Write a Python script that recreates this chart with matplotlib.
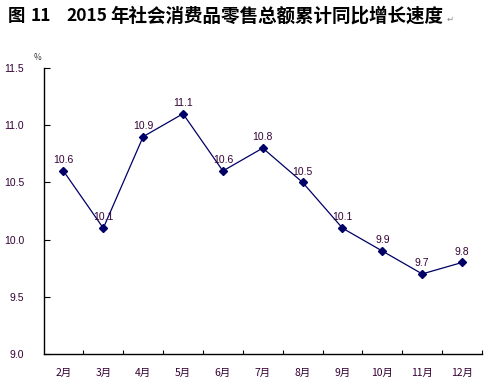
import matplotlib
matplotlib.use("Agg")
import matplotlib.pyplot as plt

months = ["2月", "3月", "4月", "5月", "6月", "7月", "8月", "9月", "10月", "11月", "12月"]
values = [10.6, 10.1, 10.9, 11.1, 10.6, 10.8, 10.5, 10.1, 9.9, 9.7, 9.8]
yticks = [9.0, 9.5, 10.0, 10.5, 11.0, 11.5]
title_parts = ["图", "11", "2015"]
title_x = [8, 31, 66]
title_rest = "年社会消费品零售总额累计同比增长速度"

plt.rcParams['font.family'] = ['Noto Sans CJK SC', 'DejaVu Sans']

fig = plt.figure(figsize=(5.01, 3.84), dpi=100)
ax = fig.add_axes([43.5/501, 1-354/384, (482-43.5)/501, (354-68)/384])

x = list(range(len(months)))
ax.plot(x, values, color="#000066", lw=0.9, marker="D", ms=4.5,
        mfc="#000066", mec="#000066")
for xi, v in zip(x, values):
    ax.text(xi, v + 0.05, f"{v:.1f}", ha="center", va="bottom",
            fontsize=7.5, color="#330033", family=['Liberation Sans', 'DejaVu Sans'])

ax.set_xlim(-0.5, len(months) - 0.5)
ax.set_ylim(9.0, 11.5)
ax.set_yticks(yticks)
ax.set_yticklabels([f"{t:.1f}" for t in yticks], fontsize=7.5, color="#330033",
                   family=['Liberation Sans', 'DejaVu Sans'])
ax.set_xticks(x)
ax.set_xticklabels(months, fontsize=7.5, color="#330033")
ax.set_xticks([i - 0.5 for i in range(1, len(months))] + [len(months) - 0.5], minor=True)
ax.tick_params(axis="x", which="major", length=0, pad=10)
ax.tick_params(axis="x", which="minor", direction="in", length=3, width=0.8)
ax.tick_params(axis="y", direction="in", length=4, width=0.8, pad=14)
for s in ["top", "right"]:
    ax.spines[s].set_visible(False)
for s in ["left", "bottom"]:
    ax.spines[s].set_linewidth(1.0)

fig.text(38/501, 1-62/384, "%", fontsize=6, color="#333333", ha="center", va="bottom")
for part, px in zip(title_parts, title_x):
    fig.text(px/501, 1-16/384, part, fontsize=12.5, fontweight="bold", ha="left",
             va="center", color="black")

# fit the CJK part of the title to span from x=110 to x=445 px
renderer = fig.canvas.get_renderer()
t = fig.text(110/501, 1-16/384, title_rest, fontsize=12.5, fontweight="bold",
             ha="left", va="center", color="black")
for _ in range(3):
    w = t.get_window_extent(renderer).width
    t.set_fontsize(t.get_fontsize() * 335.0 / w)

fig.text(447/501, 1-19/384, "↵", fontsize=6, color="#888888", ha="left", va="center",
         family=['DejaVu Sans'])

fig.savefig("out.png", dpi=100)
